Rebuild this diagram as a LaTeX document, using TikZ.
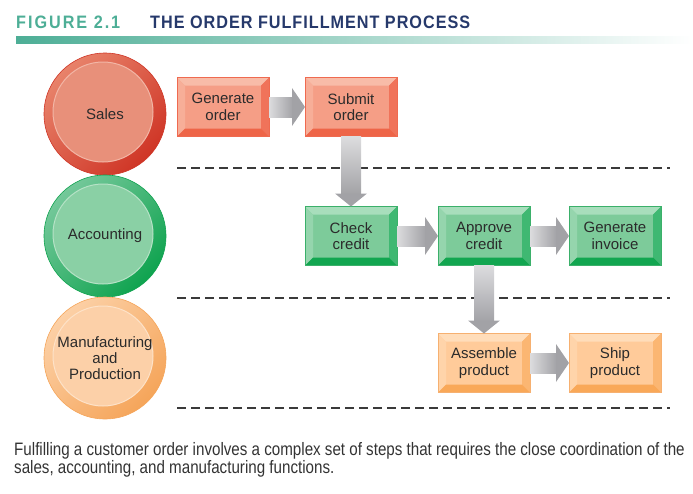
\documentclass[tikz,border=0pt]{standalone}
\usepackage{fontspec}
\setmainfont{Liberation Sans}
\newfontfamily\capfont[FakeStretch=0.842]{Liberation Sans}
\newfontfamily\titlefont[FakeStretch=0.9,LetterSpace=5.5]{Liberation Sans}
\newfontfamily\figfont[FakeStretch=0.9,LetterSpace=11]{Liberation Sans}
\usetikzlibrary{calc}
\definecolor{teal1}{HTML}{4DAE96}
\definecolor{navy1}{HTML}{26396B}
\definecolor{txt}{HTML}{2B2B2B}
\definecolor{capc}{HTML}{333333}
\definecolor{dashc}{HTML}{3A3A3A}
\definecolor{arrLight}{HTML}{DCDCDE}
\definecolor{arrGray}{HTML}{A2A2A6}
% red
\definecolor{salesA}{HTML}{E8826A}
\definecolor{salesB}{HTML}{CF3526}
\definecolor{salesIn}{HTML}{E8907A}
\definecolor{salesRim}{HTML}{F2B6A6}
\definecolor{rFace}{HTML}{F59E86}
\definecolor{rTop}{HTML}{F8BCA8}
\definecolor{rLeft}{HTML}{F7AE98}
\definecolor{rRight}{HTML}{F0735A}
\definecolor{rBot}{HTML}{EE6548}
\definecolor{rBord}{HTML}{EF6A50}
% green
\definecolor{accA}{HTML}{74C89A}
\definecolor{accB}{HTML}{0FA34F}
\definecolor{accIn}{HTML}{8AD0A5}
\definecolor{accRim}{HTML}{B6E2C6}
\definecolor{gFace}{HTML}{7DCB9A}
\definecolor{gTop}{HTML}{A8DEBC}
\definecolor{gLeft}{HTML}{95D5AD}
\definecolor{gRight}{HTML}{3FB872}
\definecolor{gBot}{HTML}{12A650}
\definecolor{gBord}{HTML}{3BB06A}
% orange
\definecolor{manA}{HTML}{FCD0A6}
\definecolor{manB}{HTML}{F5A55A}
\definecolor{manIn}{HTML}{FCD0A8}
\definecolor{manRim}{HTML}{FDE2C8}
\definecolor{oFace}{HTML}{FFCB9A}
\definecolor{oTop}{HTML}{FFDDBA}
\definecolor{oLeft}{HTML}{FFD4AA}
\definecolor{oRight}{HTML}{FBB672}
\definecolor{oBot}{HTML}{F9A858}
\definecolor{oBord}{HTML}{F6B070}

\newcommand\bevelbox[6]{%
  \fill[#3] (#1.north west) -- (#1.north east) -- ($(#1.north east)+(-8,8)$) -- ($(#1.north west)+(8,8)$) -- cycle;
  \fill[#4] (#1.north west) -- ($(#1.north west)+(8,8)$) -- ($(#1.south west)+(8,-8)$) -- (#1.south west) -- cycle;
  \fill[#5] (#1.north east) -- ($(#1.north east)+(-8,8)$) -- ($(#1.south east)+(-8,-8)$) -- (#1.south east) -- cycle;
  \fill[#6] (#1.south west) -- ($(#1.south west)+(8,-8)$) -- ($(#1.south east)+(-8,-8)$) -- (#1.south east) -- cycle;
  \draw[#2, line width=0.6pt] (#1.north west) rectangle (#1.south east);
}
\newcommand\harrow[2]{%
  \shade[left color=arrLight, right color=arrGray] ($(#1.east)+(0,-10)$) rectangle ($(#2.west)+(-12,10)$);
  \fill[arrGray] ($(#2.west)+(-13,-19)$) -- (#2.west) -- ($(#2.west)+(-13,19)$) -- cycle;}
\newcommand\varrow[2]{%
  \shade[top color=arrLight, bottom color=arrGray] ($(#2.north|-#1.south)+(-10,0)$) rectangle ($(#2.north)+(10,-12)$);
  \fill[arrGray] ($(#2.north)+(-16,-13)$) -- (#2.north) -- ($(#2.north)+(16,-13)$) -- cycle;}

\begin{document}
\begin{tikzpicture}[x=1pt,y=-1pt,
  boxst/.style={rectangle, minimum width=92pt, minimum height=59pt, inner sep=0pt, outer sep=0pt,
    align=center, font=\fontsize{15pt}{16.5pt}\selectfont, text=txt},
  circst/.style={circle, minimum size=122pt, inner sep=0pt, outer sep=0pt, align=center,
    font=\fontsize{15pt}{16pt}\selectfont, text=txt, line width=0.6pt},
  dashline/.style={dashc, line width=1.4pt, dash pattern=on 9pt off 5pt},
  capst/.style={anchor=base west, inner sep=0pt, text=capc, font=\capfont\fontsize{18pt}{19pt}\selectfont},
]
\useasboundingbox (0,0) rectangle (693,493);

% title
\node[anchor=base west, inner sep=0pt, text=teal1, font=\figfont\bfseries\fontsize{18pt}{20pt}\selectfont] (fig) at (16,28) {FIGURE 2.1};
\node[anchor=base west, inner sep=0pt, text=navy1, font=\titlefont\bfseries\fontsize{18pt}{20pt}\selectfont] (ttl) at (150,28) {THE ORDER FULFILLMENT PROCESS};
\shade[left color=teal1, right color=white] (16,36) rectangle (693,43);

% circles
\node[circst, top color=salesA, bottom color=salesB, shading angle=45, draw=salesB,
  path picture={\fill[salesIn, draw=salesRim, line width=1pt] ($(path picture bounding box.center)+(-2,-2)$) circle (50pt);}]
  (sales) at (105,114) {Sales};
\node[circst, top color=accA, bottom color=accB, shading angle=45, draw=accB,
  path picture={\fill[accIn, draw=accRim, line width=1pt] ($(path picture bounding box.center)+(-2,-2)$) circle (50pt);}]
  (acct) at (105,236) {Accounting};
\node[circst, top color=manA, bottom color=manB, shading angle=45, draw=manB,
  path picture={\fill[manIn, draw=manRim, line width=1pt] ($(path picture bounding box.center)+(-2,-2)$) circle (50pt);}]
  (manu) at (105,358) {Manufacturing\\and\\Production};

% dashed dividers
\draw[dashline] (177,168) -- (670,168);
\draw[dashline] (177,298) -- (670,298);
\draw[dashline] (177,408) -- (670,408);

% boxes
\node[boxst, fill=rFace] (go) at (223,107) {Generate\\order};
\bevelbox{go}{rBord}{rTop}{rLeft}{rRight}{rBot}
\node[boxst, fill=rFace] (so) at (351,107) {Submit\\order};
\bevelbox{so}{rBord}{rTop}{rLeft}{rRight}{rBot}
\node[boxst, fill=gFace] (cc) at (351,236) {Check\\credit};
\bevelbox{cc}{gBord}{gTop}{gLeft}{gRight}{gBot}
\node[boxst, fill=gFace] (ac) at (484,236) {Approve\\credit};
\bevelbox{ac}{gBord}{gTop}{gLeft}{gRight}{gBot}
\node[boxst, fill=gFace] (gi) at (615,236) {Generate\\invoice};
\bevelbox{gi}{gBord}{gTop}{gLeft}{gRight}{gBot}
\node[boxst, fill=oFace] (ap) at (484,363) {Assemble\\product};
\bevelbox{ap}{oBord}{oTop}{oLeft}{oRight}{oBot}
\node[boxst, fill=oFace] (sp) at (615,363) {Ship\\product};
\bevelbox{sp}{oBord}{oTop}{oLeft}{oRight}{oBot}

% arrows
\harrow{go}{so}
\varrow{so}{cc}
\harrow{cc}{ac}
\harrow{ac}{gi}
\varrow{ac}{ap}
\harrow{ap}{sp}

% caption
\node[capst] (cap1) at (14,455)
  {Fulfilling a customer order involves a complex set of steps that requires the close coordination of the};
\node[capst] (cap2) at (14,473)
  {sales, accounting, and manufacturing functions.};
\end{tikzpicture}
\end{document}
